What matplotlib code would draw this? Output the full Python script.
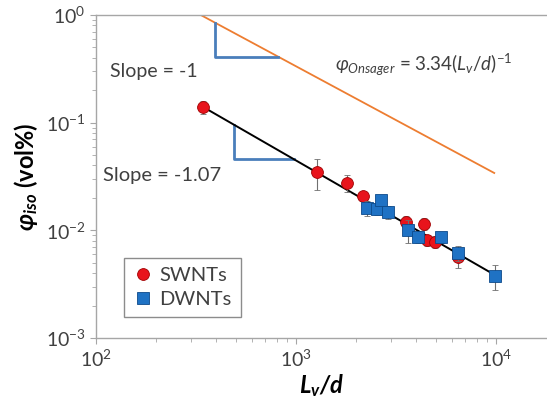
import numpy as np
import matplotlib
matplotlib.use('Agg')
import matplotlib.pyplot as plt
from matplotlib.lines import Line2D


plt.rcParams['font.family'] = ['Lato', 'DejaVu Sans']
plt.rcParams['mathtext.fontset'] = 'custom'
plt.rcParams['mathtext.rm'] = 'Lato'
plt.rcParams['mathtext.it'] = 'Lato:italic'
plt.rcParams['mathtext.bf'] = 'Lato:bold'
plt.rcParams['mathtext.bfit'] = 'Lato:bold:italic'

GRAY = '#a6a6a6'
TXT = '#404040'

# SWNTs
sw_x = [343, 1273, 1800, 2163, 3548, 4365, 4520, 4950, 6450]
sw_y = [0.14, 0.0348, 0.0275, 0.0209, 0.0120, 0.0115, 0.0081, 0.0078, 0.0057]
sw_err = [0.02, 0.011, 0.005, 0.002, 0.0015, 0.0015, 0.001, 0.001, 0.0012]

# DWNTs
dw_x = [2265, 2541, 2661, 2884, 3631, 4074, 5309, 6457, 9886]
dw_y = [0.0161, 0.0158, 0.0191, 0.0148, 0.0101, 0.0087, 0.0087, 0.0062, 0.0038]
dw_err = [0.0025, 0.002, 0.002, 0.002, 0.0025, 0.001, 0.001, 0.001, 0.001]

# fit and Onsager lines
fit_slope = -1.07
fit_x = [343, 9886]
ons_coef = 334.0
ons_x = [334, 9800]

# slope triangles (corner x, end x)
tri1_x = [394, 813]
tri2_x = [490, 977]


def fit(x):
    return 0.14 * (np.asarray(x, dtype=float) / 343.0) ** fit_slope


def onsager(x):
    return ons_coef / np.asarray(x, dtype=float)


fig = plt.figure(figsize=(5.47, 4.04), dpi=100)
ax = fig.add_axes([0.1755, 0.1634, 0.8245, 0.7995])
ax.set_xscale('log')
ax.set_yscale('log')
ax.set_xlim(100, 17990)
ax.set_ylim(1e-3, 1)

# lines
ax.plot(ons_x, onsager(ons_x), color='#ed7d31', lw=1.3, zorder=2)
ax.plot(fit_x, fit(fit_x), color='black', lw=1.4, zorder=3)

# triangles
x0, x1 = tri1_x
ax.plot([x0, x0, x1], [onsager(x0), onsager(x1), onsager(x1)], color='#4a7ebb', lw=2.0, zorder=2)
x0, x1 = tri2_x
ax.plot([x0, x0, x1], [fit(x0), fit(x1), fit(x1)], color='#4a7ebb', lw=2.0, zorder=2)

# data
sw_style = dict(marker='o', color='#e8141c', mec='#a00000', mew=0.6, ms=8.5)
dw_style = dict(marker='s', color='#1f72c4', mec='#0d4a8a', mew=0.6, ms=8.5)
ax.errorbar(sw_x, sw_y, yerr=sw_err, ls='none', ecolor='#707070', elinewidth=0.8,
            capsize=2, capthick=0.8, zorder=4, **sw_style)
ax.errorbar(dw_x, dw_y, yerr=dw_err, ls='none', ecolor='#707070', elinewidth=0.8,
            capsize=2, capthick=0.8, zorder=5, **dw_style)

# texts
ax.text(118, 0.30, 'Slope = -1', fontsize=14, color=TXT, va='center', ha='left')
ax.text(108, 0.032, 'Slope = -1.07', fontsize=14.5, color=TXT, va='center', ha='left')
ax.text(1567, 0.34, r'$\varphi_{\mathit{Onsager}}$ = 3.34($\mathit{L_v}$/$\mathit{d}$)$^{\mathrm{-1}}$',
        fontsize=13.5, color=TXT, va='center', ha='left')

# axes styling
ax.spines['right'].set_visible(False)
for s in ['left', 'bottom', 'top']:
    ax.spines[s].set_color(GRAY)
    ax.spines[s].set_linewidth(1.0)
ax.tick_params(which='both', direction='out', color=GRAY, labelcolor=TXT,
               labelsize=14, top=False, right=False)
ax.tick_params(which='major', length=4)
ax.tick_params(which='minor', length=3)
ax.set_xticks([1e2, 1e3, 1e4])
ax.set_yticks([1e-3, 1e-2, 1e-1, 1e0])
ax.set_xticklabels([r'$10^{2}$', r'$10^{3}$', r'$10^{4}$'])
ax.set_yticklabels([r'$10^{\mathrm{-3}}$', r'$10^{\mathrm{-2}}$', r'$10^{\mathrm{-1}}$', r'$10^{0}$'])

ax.set_xlabel(r'$\mathbfit{L_v/d}$', fontsize=17, color='black', labelpad=2)
ax.set_ylabel(r'$\mathbfit{\varphi_{iso}}$ (vol%)', fontsize=17, fontweight='bold',
              color='black', labelpad=4)

handles = [Line2D([], [], ls='none', **sw_style), Line2D([], [], ls='none', **dw_style)]
leg = ax.legend(handles, ['SWNTs', 'DWNTs'], loc='lower left', bbox_to_anchor=(0.062, 0.065),
                fontsize=14.5, frameon=True, fancybox=False, edgecolor='#707070',
                handletextpad=0.3, borderpad=0.45, labelspacing=0.35, handlelength=1.0,
                borderaxespad=0)
leg.get_frame().set_linewidth(1.0)
for t in leg.get_texts():
    t.set_color(TXT)

fig.savefig('out.png', dpi=100)
